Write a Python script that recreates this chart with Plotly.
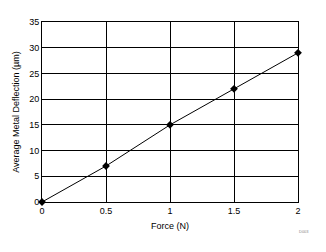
import plotly.graph_objects as go

force = [0, 0.5, 1, 1.5, 2]
deflection = [0, 7, 15, 22, 29]
x_ticks = [0, 0.5, 1, 1.5, 2]
x_tick_labels = ["0", "0.5", "1", "1.5", "2"]
y_ticks = [0, 5, 10, 15, 20, 25, 30, 35]

fig = go.Figure()
fig.add_trace(go.Scatter(
    x=force, y=deflection, mode="lines+markers",
    line=dict(color="black", width=1),
    marker=dict(symbol="diamond", size=6, color="black"),
    cliponaxis=False,
))

fig.update_layout(
    width=326, height=252,
    margin=dict(l=41.5, r=28, t=22, b=50),
    paper_bgcolor="white", plot_bgcolor="white",
    font=dict(family="Liberation Sans, Arial, sans-serif", size=9, color="black"),
    showlegend=False,
    annotations=[dict(text="D003", x=1.05, y=-0.14, xref="paper", yref="paper",
                      xanchor="right", yanchor="top", showarrow=False,
                      font=dict(size=4, color="#888888"))],
)
fig.update_xaxes(
    range=[0, 2], tickvals=x_ticks, ticktext=x_tick_labels,
    showgrid=True, gridcolor="black", gridwidth=1,
    showline=True, linecolor="black", linewidth=1, mirror=True,
    zeroline=False, ticks="", ticklen=0,
    tickfont=dict(size=9),
    title=dict(text="Force (N)", standoff=7, font=dict(size=9)),
)
fig.update_yaxes(
    range=[0, 35], tickvals=y_ticks,
    showgrid=True, gridcolor="black", gridwidth=1,
    showline=True, linecolor="black", linewidth=1, mirror=True,
    zeroline=False, ticks="", ticklen=0,
    title=dict(text="Average Metal Deflection (µm)", standoff=8, font=dict(size=9)),
)

fig.write_html("out.html")
